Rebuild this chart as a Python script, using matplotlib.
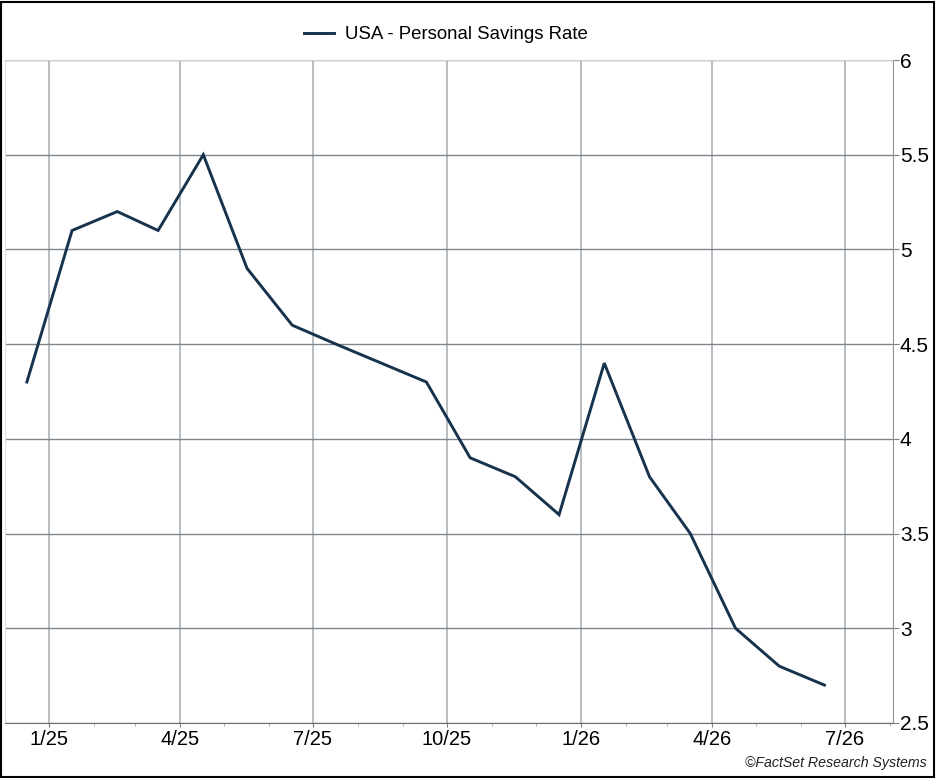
import numpy as np
import pandas as pd
import matplotlib
matplotlib.use("Agg")
import matplotlib.pyplot as plt
import matplotlib.dates as mdates

plt.rcParams['font.family'] = ['Liberation Sans', 'DejaVu Sans']

# monthly observations (plotted around mid-month)
months = pd.date_range('2024-12-01', periods=19, freq='MS') + pd.Timedelta(days=16)
savings_rate = [4.3, 5.1, 5.2, 5.1, 5.5, 4.9, 4.6, 4.5, 4.4, 4.3,
                3.9, 3.8, 3.6, 4.4, 3.8, 3.5, 3.0, 2.8, 2.7]
series_name = 'USA - Personal Savings Rate'
y_ticks = [2.5, 3, 3.5, 4, 4.5, 5, 5.5, 6]
y_labels = ['2.5', '3', '3.5', '4', '4.5', '5', '5.5', '6']

fig = plt.figure(figsize=(9.36, 7.78), dpi=100)
ax = fig.add_axes([5 / 936, 55 / 778, 888 / 936, 663 / 778])

ax.plot(months, savings_rate, color='#17324d', lw=2.1, label=series_name,
        solid_joinstyle='miter', zorder=3)

ax.set_xlim(pd.Timestamp('2024-12-02'), pd.Timestamp('2026-08-03'))
ax.set_ylim(2.5, 6)

ax.xaxis.set_major_locator(mdates.MonthLocator(bymonth=[1, 4, 7, 10]))
ax.xaxis.set_minor_locator(mdates.MonthLocator())
ax.xaxis.set_major_formatter(
    plt.FuncFormatter(lambda v, p: '%d/%s' % (mdates.num2date(v).month,
                                              mdates.num2date(v).strftime('%y'))))

ax.yaxis.tick_right()
ax.set_yticks(y_ticks)
ax.set_yticklabels(y_labels)

ax.tick_params(axis='x', which='major', length=3, color='#808080',
               labelsize=14.5, pad=2)
ax.tick_params(axis='x', which='minor', length=2, color='#a0a0a0')
ax.tick_params(axis='y', length=4, color='#808080', labelsize=15, pad=1)

ax.grid(axis='x', which='major', color='#a4abb2', lw=1.1)
ax.grid(axis='y', color='#7c858e', lw=1.0)

ax.spines['top'].set_color('#d0d0d0')
ax.spines['left'].set_color('#e0e0e0')
ax.spines['bottom'].set_color('#707070')
ax.spines['right'].set_color('#909090')

ax.legend(loc='lower center', bbox_to_anchor=(0.497, 1.0), frameon=False,
          fontsize=13.4, handlelength=1.6, handletextpad=0.6)

fig.text(927 / 936, 1 - 763 / 778, '\u00a9FactSet Research Systems',
         ha='right', va='center', fontsize=10.2, style='italic', color='#202020')

# outer border
fig.patches.append(plt.Rectangle((0.001, 0.001), 0.997, 0.997,
                                 transform=fig.transFigure, fill=False,
                                 edgecolor='black', lw=1.5))

fig.savefig('out.png', dpi=100)
